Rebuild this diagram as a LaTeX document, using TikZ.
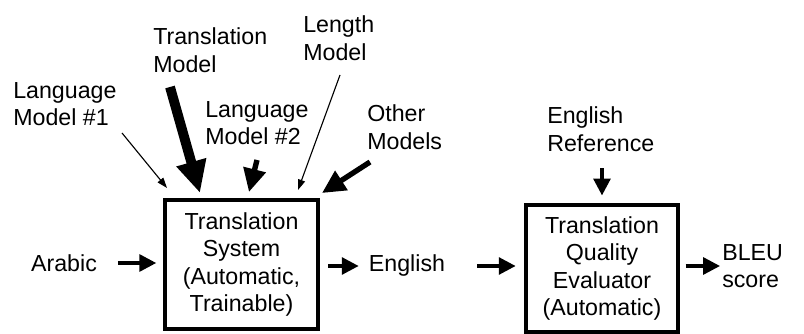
\documentclass[tikz,border=0pt]{standalone}
\usepackage{fontspec}
\setmainfont{Liberation Sans}
\usepackage{tikz}
\usetikzlibrary{arrows.meta, positioning, calc}

\begin{document}
\begin{tikzpicture}[
    x=0.025cm, y=-0.025cm,
    font=\fontsize{16.5}{19.5}\selectfont,
    % Node styles
    sysbox/.style={rectangle, draw=black, line width=2.2pt, minimum width=3.825cm, minimum height=3.225cm, align=center, inner sep=0pt},
    evalbox/.style={rectangle, draw=black, line width=2.2pt, minimum width=3.8cm, minimum height=3.175cm, align=center, inner sep=0pt},
    modellab/.style={anchor=west, align=left, inner sep=0pt},
    flowlab/.style={inner sep=0pt},
    % Arrow styles
    flowarrow/.style={-{Triangle[length=0.42cm, width=0.42cm]}, line width=2.4pt},
    thinarrow/.style={-{Triangle[length=0.26cm, width=0.18cm]}, line width=0.8pt},
    boldarrow/.style={-{Triangle[length=0.58cm, width=0.55cm]}, line width=3.8pt},
    heavyarrow/.style={-{Triangle[length=0.8cm, width=0.72cm]}, line width=7pt}
]
\useasboundingbox (0,0) rectangle (804,334);

% === MAIN FLOW ===
\node[flowlab] (arabic) at (64,263) {Arabic};
\node[sysbox] (system) at (241.5,264.5) {Translation\\System\\(Automatic,\\Trainable)};
\node[flowlab] (english) at (407,266) {English};
\node[evalbox] (evaluator) at (602,268.5) {Translation\\Quality\\Evaluator\\(Automatic)};
\node[modellab] (bleu) at (722,266) {BLEU\\score};

\draw[flowarrow, shorten <=0.52cm, shorten >=0.18cm] (arabic.east) -- (arabic.east -| system.west);
\draw[flowarrow, shorten <=0.22cm, shorten >=0.25cm] (system.east |- english.west) -- (english.west);
\draw[flowarrow, shorten <=0.8cm, shorten >=0.22cm] (english.east) -- (english.east -| evaluator.west);
\draw[flowarrow, shorten <=0.15cm, shorten >=0.05cm] (evaluator.east |- bleu.west) -- (bleu.west);

% === MODELS (top left) ===
\node[modellab] (lm1) at (13,104) {Language\\Model \#1};
\node[modellab] (tm) at (153,50) {Translation\\Model};
\node[modellab] (lenmodel) at (303,38) {Length\\Model};
\node[modellab] (lm2) at (205,123) {Language\\Model \#2};
\node[modellab] (other) at (367,127) {Other\\Models};

% arrow ends near the system box
\coordinate (lm1start) at (122,133);
\coordinate (lm1tip) at (167,188);
\coordinate (tmstart) at (170,87);
\coordinate (tmtip) at (200,193);
\coordinate (lm2start) at (257,160);
\coordinate (lm2tip) at (249,192);
\coordinate (lenstart) at (340,75);
\coordinate (lentip) at (298,190);
\coordinate (otherstart) at (370,162);
\coordinate (othertip) at (322,193);

\draw[thinarrow] (lm1start) -- (lm1tip);
\draw[heavyarrow] (tmstart) -- (tmtip);
\draw[boldarrow] (lm2start) -- (lm2tip);
\draw[thinarrow] (lenstart) -- (lentip);
\draw[boldarrow] (otherstart) -- (othertip);

% === REFERENCE ===
\node[modellab] (engref) at (547,129) {English\\Reference};
\draw[flowarrow, shorten <=0.42cm, shorten >=0.2cm] (engref.south -| evaluator.north) -- (evaluator.north);

\end{tikzpicture}
\end{document}
